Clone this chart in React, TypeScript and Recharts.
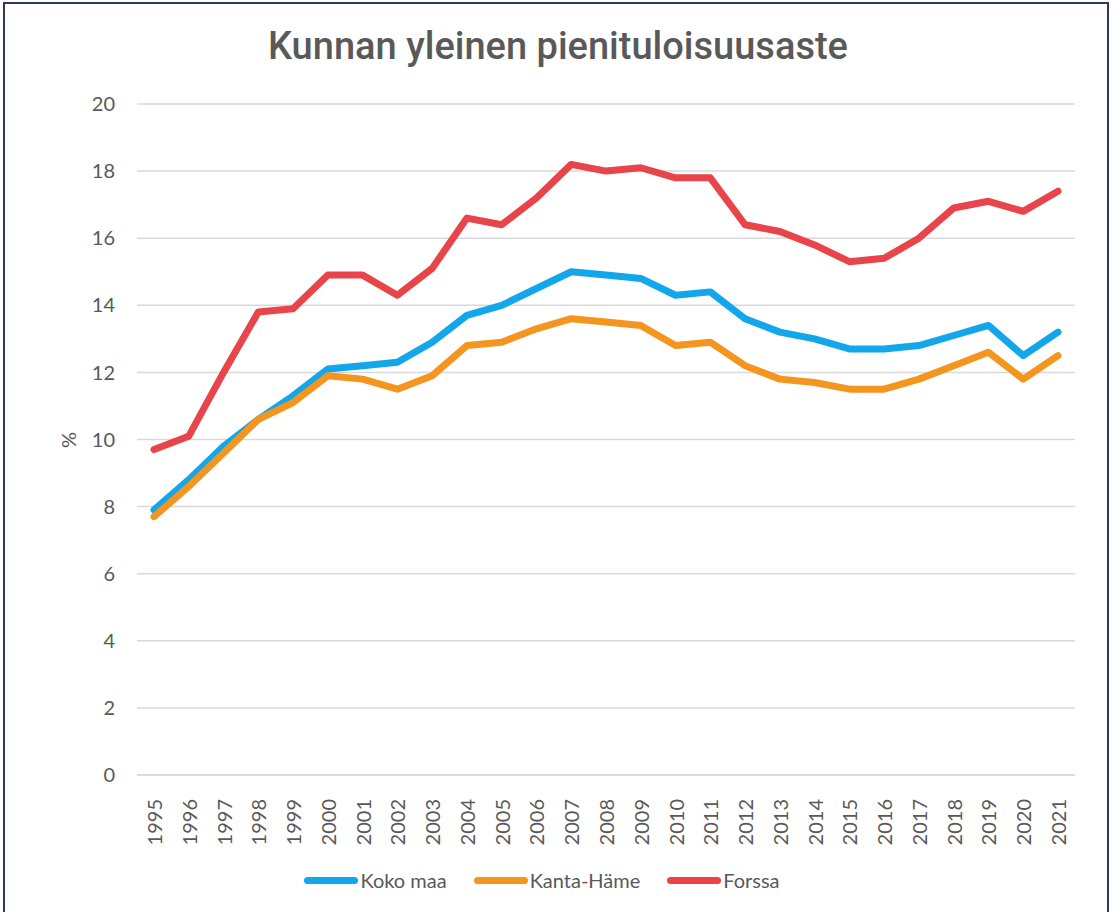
import { LineChart, Line, XAxis, YAxis, CartesianGrid, Legend } from 'recharts'

const years = [
  '1995', '1996', '1997', '1998', '1999', '2000', '2001', '2002', '2003', '2004',
  '2005', '2006', '2007', '2008', '2009', '2010', '2011', '2012', '2013', '2014',
  '2015', '2016', '2017', '2018', '2019', '2020', '2021',
]

const kokoMaa = [
  7.9, 8.8, 9.8, 10.6, 11.3, 12.1, 12.2, 12.3, 12.9, 13.7,
  14.0, 14.5, 15.0, 14.9, 14.8, 14.3, 14.4, 13.6, 13.2, 13.0,
  12.7, 12.7, 12.8, 13.1, 13.4, 12.5, 13.2,
]

const kantaHame = [
  7.7, 8.6, 9.6, 10.6, 11.1, 11.9, 11.8, 11.5, 11.9, 12.8,
  12.9, 13.3, 13.6, 13.5, 13.4, 12.8, 12.9, 12.2, 11.8, 11.7,
  11.5, 11.5, 11.8, 12.2, 12.6, 11.8, 12.5,
]

const forssa = [
  9.7, 10.1, 12.0, 13.8, 13.9, 14.9, 14.9, 14.3, 15.1, 16.6,
  16.4, 17.2, 18.2, 18.0, 18.1, 17.8, 17.8, 16.4, 16.2, 15.8,
  15.3, 15.4, 16.0, 16.9, 17.1, 16.8, 17.4,
]

const yTicks = [0, 2, 4, 6, 8, 10, 12, 14, 16, 18, 20]

const series = [
  { key: 'koko', name: 'Koko maa', color: '#12A6EA' },
  { key: 'kanta', name: 'Kanta-Häme', color: '#F3951E' },
  { key: 'forssa', name: 'Forssa', color: '#E8444A' },
]

const data = years.map((y, i) => ({
  year: y,
  koko: kokoMaa[i],
  kanta: kantaHame[i],
  forssa: forssa[i],
}))

const FONT = 'Lato, "Noto Sans", sans-serif'
const TEXT = '#595959'

function YearTick(props: any) {
  const { x, y, payload } = props
  return (
    <text
      x={x}
      y={y + 16}
      transform={`rotate(-90, ${x}, ${y + 16})`}
      textAnchor="end"
      dominantBaseline="central"
      fontFamily={FONT}
      fontSize={20}
      fill={TEXT}
    >
      {payload.value}
    </text>
  )
}

function LegendBox() {
  return (
    <div
      style={{
        height: 30,
        display: 'flex',
        justifyContent: 'center',
        alignItems: 'center',
        paddingLeft: 36,
        fontFamily: FONT,
        fontSize: 20,
        color: TEXT,
      }}
    >
      {series.map((s) => (
        <div key={s.key} style={{ display: 'flex', alignItems: 'center', marginRight: 27 }}>
          <span
            style={{
              display: 'inline-block',
              width: 54,
              height: 7,
              borderRadius: 4,
              background: s.color,
              marginRight: 2,
            }}
          />
          <span>{s.name}</span>
        </div>
      ))}
    </div>
  )
}

export default function App() {
  return (
    <div
      style={{
        position: 'absolute',
        left: 0,
        top: 0,
        width: 1116,
        height: 912,
        background: '#fff',
        overflow: 'hidden',
      }}
    >
      <div
        style={{
          position: 'absolute',
          left: 3,
          top: 2,
          width: 1106,
          height: 920,
          border: '2px solid #2E3A55',
          boxSizing: 'border-box',
        }}
      />
      <div
        style={{
          position: 'absolute',
          left: 0,
          top: 24,
          width: 1116,
          textAlign: 'center',
          fontFamily: 'Roboto, sans-serif',
          fontWeight: 500,
          fontSize: 38,
          color: TEXT,
        }}
      >
        Kunnan yleinen pienituloisuusaste
      </div>
      <LineChart
        width={1116}
        height={912}
        data={data}
        margin={{ top: 104, right: 41, bottom: 17, left: 0 }}
      >
        <CartesianGrid vertical={false} stroke="#D9D9D9" strokeWidth={1.5} />
        <XAxis
          dataKey="year"
          tick={<YearTick />}
          interval={0}
          height={90}
          padding={{ left: 17, right: 17 }}
          axisLine={{ stroke: '#D9D9D9', strokeWidth: 1.5 }}
          tickLine={false}
        />
        <YAxis
          domain={[0, 20]}
          ticks={yTicks}
          width={137}
          axisLine={false}
          tickLine={false}
          tickMargin={16}
          tick={{ fontFamily: FONT, fontSize: 20, fill: TEXT }}
          label={{
            content: () => (
              <text
                x={68}
                y={440}
                transform="rotate(-90, 68, 440)"
                textAnchor="middle"
                dominantBaseline="central"
                fontFamily={FONT}
                fontSize={20}
                fill={TEXT}
              >
                %
              </text>
            ),
          }}
        />
        <Legend verticalAlign="bottom" content={<LegendBox />} />
        {series.map((s) => (
          <Line
            key={s.key}
            type="linear"
            dataKey={s.key}
            name={s.name}
            stroke={s.color}
            strokeWidth={7}
            strokeLinecap="round"
            strokeLinejoin="round"
            dot={false}
            activeDot={false}
            isAnimationActive={false}
          />
        ))}
      </LineChart>
    </div>
  )
}
